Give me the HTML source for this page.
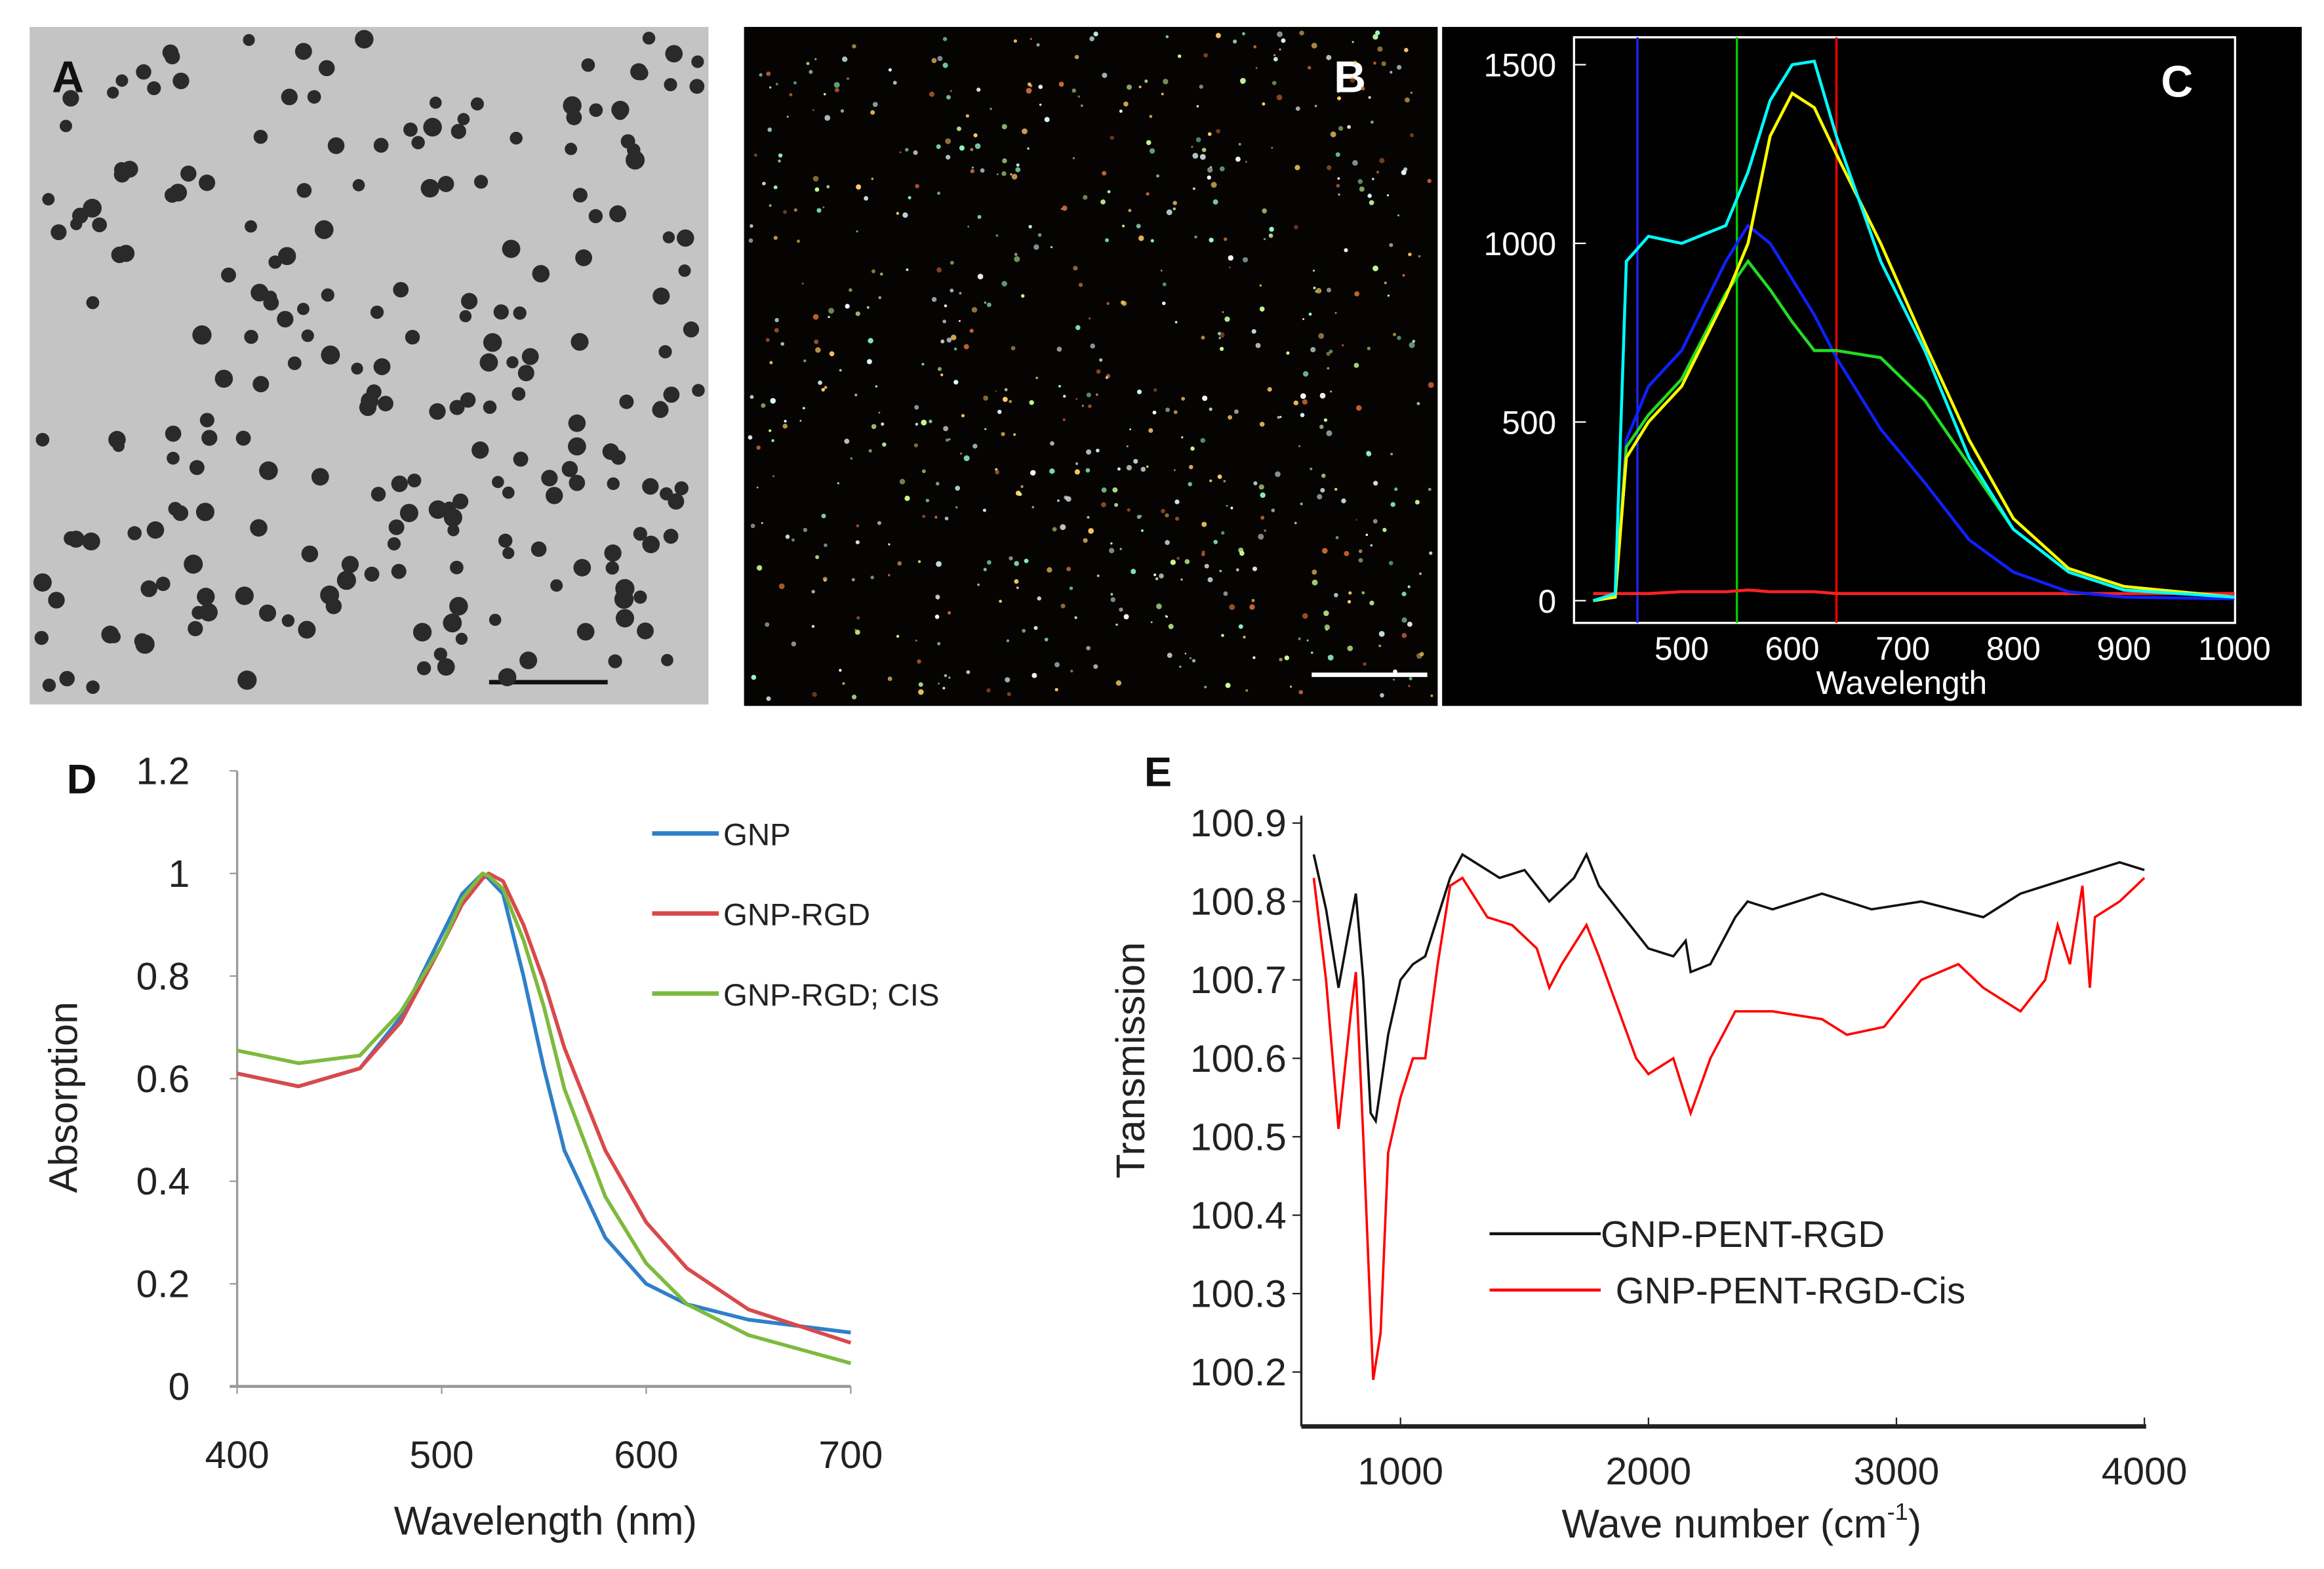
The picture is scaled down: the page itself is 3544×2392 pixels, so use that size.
<!DOCTYPE html>
<html><head><meta charset="utf-8"><style>
html,body{margin:0;padding:0;background:#fff}
svg{display:block}
text{font-family:"Liberation Sans",sans-serif}
</style></head><body>
<svg id="fig" width="3544" height="2392" viewBox="0 0 1568 1058" xmlns="http://www.w3.org/2000/svg">
<rect width="1568" height="1058" fill="#fff"/>
<g id="pa">
<rect x="20" y="18" width="458" height="457" fill="#c4c4c4"/>
<line x1="330" y1="460" x2="410" y2="460" stroke="#111" stroke-width="3"/>
<text x="35" y="62" font-size="30" font-weight="bold" fill="#111">A</text>
</g>
<g id="pb">
<rect x="502" y="18" width="468" height="458" fill="#050402"/>
<line x1="885" y1="455" x2="963" y2="455" stroke="#fff" stroke-width="3"/>
<text x="900" y="62" font-size="30" font-weight="bold" fill="#fff">B</text>
</g>
<g id="pc">
<rect x="973" y="18" width="580" height="458" fill="#000"/>
<rect x="1062" y="25" width="446" height="395" fill="none" stroke="#fff" stroke-width="1.5"/>
<text x="1458" y="65" font-size="30" font-weight="bold" fill="#fff">C</text>
<text x="1283" y="468" font-size="22" fill="#fff" text-anchor="middle">Wavelength</text>
</g>
<g id="pd">
<text x="45" y="535" font-size="28" font-weight="bold" fill="#111">D</text>
<text transform="translate(52,740) rotate(-90)" font-size="27" text-anchor="middle" fill="#222">Absorption</text>
<text x="368" y="1035" font-size="27" text-anchor="middle" fill="#222">Wavelength (nm)</text>
</g>
<g id="pe">
<text x="772" y="530" font-size="28" font-weight="bold" fill="#111">E</text>
<text transform="translate(772,715) rotate(-90)" font-size="27" text-anchor="middle" fill="#222">Transmission</text>
<text x="1175" y="1037" font-size="27" text-anchor="middle" fill="#222">Wave number (cm<tspan font-size="16" dy="-12">-1</tspan><tspan dy="12">)</tspan></text>
</g>
</svg>
<script>
const NS="http://www.w3.org/2000/svg";
// Panel C data
const cWl=[420,440,450,470,500,540,560,580,600,620,640,680,720,760,800,850,900,1000];
const cCyan=[0,20,950,1020,1000,1050,1200,1400,1500,1510,1300,950,700,400,200,80,30,10];
const cYellow=[0,10,400,500,600,850,1000,1300,1420,1380,1250,1000,720,450,230,90,40,10];
const cBlue=[0,10,450,600,700,950,1050,1000,900,800,680,480,330,170,80,25,10,5];
const cGreen=[0,10,430,520,620,860,950,870,780,700,700,680,560,380,200,80,30,10];
const cRed=[20,20,20,20,25,25,30,25,25,25,20,20,20,20,20,20,20,20];
const cTicksY=[0,500,1000,1500];
const cTicksX=[500,600,700,800,900,1000];
const cMarkers=[460,550,640];
// Panel D data
const dWl=[400,430,460,480,500,510,520,523,530,540,550,560,580,600,620,650,700];
const dGNP=[0.61,0.585,0.62,0.72,0.88,0.96,1.0,0.99,0.96,0.80,0.62,0.46,0.29,0.20,0.16,0.13,0.105];
const dRGD=[0.61,0.585,0.62,0.71,0.86,0.94,0.99,1.0,0.985,0.90,0.79,0.66,0.46,0.32,0.23,0.15,0.085];
const dCIS=[0.655,0.63,0.645,0.73,0.86,0.95,1.0,0.995,0.97,0.87,0.74,0.58,0.37,0.24,0.16,0.10,0.045];
const dTicksY=[0,0.2,0.4,0.6,0.8,1,1.2];
const dTicksX=[400,500,600,700];
const dLegend=["GNP","GNP-RGD","GNP-RGD; CIS"];
// Panel E data
const eWnB=[650,700,750,790,820,850,880,900,950,1000,1050,1100,1200,1250,1300,1400,1500,1600,1700,1750,1800,1900,2000,2100,2150,2170,2250,2350,2400,2500,2700,2900,3100,3350,3500,3700,3800,3900,4000];
const eBlack=[100.86,100.79,100.69,100.76,100.81,100.70,100.53,100.52,100.63,100.70,100.72,100.73,100.83,100.86,100.85,100.83,100.84,100.80,100.83,100.86,100.82,100.78,100.74,100.73,100.75,100.71,100.72,100.78,100.80,100.79,100.81,100.79,100.80,100.78,100.81,100.83,100.84,100.85,100.84];
const eWnR=[650,700,750,800,820,850,890,920,950,1000,1050,1100,1150,1200,1250,1350,1450,1550,1600,1650,1750,1800,1950,2000,2100,2130,2170,2250,2350,2500,2700,2800,2950,3100,3250,3350,3500,3600,3650,3700,3750,3780,3800,3900,4000];
const eRed=[100.83,100.70,100.51,100.66,100.71,100.50,100.19,100.25,100.48,100.55,100.60,100.60,100.72,100.82,100.83,100.78,100.77,100.74,100.69,100.72,100.77,100.73,100.60,100.58,100.60,100.57,100.53,100.60,100.66,100.66,100.65,100.63,100.64,100.70,100.72,100.69,100.66,100.70,100.77,100.72,100.82,100.69,100.78,100.80,100.83];
const eTicksY=[100.2,100.3,100.4,100.5,100.6,100.7,100.8,100.9];
const eTicksX=[1000,2000,3000,4000];
const eLegend=["GNP-PENT-RGD","GNP-PENT-RGD-Cis"];

function mk(tag,attrs,parent){const e=document.createElementNS(NS,tag);for(const k in attrs)e.setAttribute(k,attrs[k]);parent.appendChild(e);return e;}
function path(xs,ys,fx,fy){return xs.map((x,i)=>(i?"L":"M")+fx(x).toFixed(1)+","+fy(ys[i]).toFixed(1)).join("");}

// decorative particles (image texture)
let seed=7;function rnd(){seed=(seed*16807)%2147483647;return seed/2147483647;}
const pa=document.getElementById('pa');
for(let i=0;i<230;i++){const c=mk('circle',{cx:28+rnd()*445,cy:25+rnd()*440,r:4+rnd()*2.5,fill:'#2a2a2a'},pa);

}
const pb=document.getElementById('pb');
const cols=['#dff','#cf9','#fc6','#c63','#9fc','#fff'];
for(let i=0;i<700;i++){const c=mk('circle',{cx:506+rnd()*460,cy:22+rnd()*450,r:0.6+rnd()*1.4,fill:cols[Math.floor(rnd()*6)],opacity:0.5+rnd()*0.5},pb);

}

// Panel C
const pc=document.getElementById('pc');
const cx=v=>1060+(v-400)*0.746, cy=v=>405-v*0.241;
cTicksY.forEach(t=>{const tx=mk('text',{x:1050,y:cy(t)+8,'font-size':22,fill:'#fff','text-anchor':'end'},pc);tx.textContent=t;


mk('line',{x1:1062,x2:1070,y1:cy(t),y2:cy(t),stroke:'#fff'},pc);});
cTicksX.forEach(t=>{const tx=mk('text',{x:cx(t),y:445,'font-size':22,fill:'#fff','text-anchor':'middle'},pc);tx.textContent=t;

});
['#22f','#0c0','#f00'].forEach((col,i)=>{const l=mk('line',{x1:cx(cMarkers[i]),x2:cx(cMarkers[i]),y1:25,y2:420,stroke:col,'stroke-width':1.5},pc);

});
[[cRed,'#f22'],[cBlue,'#1020ff'],[cGreen,'#2d2'],[cYellow,'#ff0'],[cCyan,'#0ff']].forEach(([ys,col])=>{
const p=mk('path',{d:path(cWl,ys,cx,cy),fill:'none',stroke:col,'stroke-width':2},pc);

});

// Panel D
const pd=document.getElementById('pd');
const dx=v=>160+(v-400)*1.38, dy=v=>935-v*346;
mk('line',{x1:160,x2:160,y1:520,y2:935,stroke:'#999','stroke-width':1.5},pd);
mk('line',{x1:155,x2:574,y1:935,y2:935,stroke:'#999','stroke-width':2},pd);
dTicksY.forEach(t=>{mk('line',{x1:155,x2:160,y1:dy(t),y2:dy(t),stroke:'#999'},pd);
const tx=mk('text',{x:128,y:dy(t)+9,'font-size':26,fill:'#222','text-anchor':'end'},pd);tx.textContent=t;

});
dTicksX.forEach(t=>{mk('line',{x1:dx(t),x2:dx(t),y1:935,y2:940,stroke:'#999'},pd);
const tx=mk('text',{x:dx(t),y:990,'font-size':26,fill:'#222','text-anchor':'middle'},pd);tx.textContent=t;

});
const dCols=['#2f7fc8','#d9494b','#7dba3e'];
[dGNP,dRGD,dCIS].forEach((ys,i)=>{const p=mk('path',{d:path(dWl,ys,dx,dy),fill:'none',stroke:dCols[i],'stroke-width':2.5,'stroke-linejoin':'round'},pd);


const ly=562+i*54;
mk('line',{x1:440,x2:485,y1:ly,y2:ly,stroke:dCols[i],'stroke-width':3},pd);
const tx=mk('text',{x:488,y:ly+8,'font-size':21,fill:'#222'},pd);tx.textContent=dLegend[i];

});

// Panel E
const pe=document.getElementById('pe');
const ex=v=>878+(v-600)*0.1673, ey=v=>555+(100.9-v)*529;
mk('line',{x1:878,x2:878,y1:550,y2:962,stroke:'#222','stroke-width':1.5},pe);
mk('line',{x1:878,x2:1448,y1:962,y2:962,stroke:'#222','stroke-width':3},pe);
eTicksY.forEach(t=>{mk('line',{x1:872,x2:878,y1:ey(t),y2:ey(t),stroke:'#222'},pe);
const tx=mk('text',{x:868,y:ey(t)+9,'font-size':26,fill:'#222','text-anchor':'end'},pe);tx.textContent=t.toFixed(1);

});
eTicksX.forEach(t=>{mk('line',{x1:ex(t),x2:ex(t),y1:956,y2:962,stroke:'#222'},pe);
const tx=mk('text',{x:ex(t),y:1001,'font-size':26,fill:'#222','text-anchor':'middle'},pe);tx.textContent=t;

});
[[eWnB,eBlack,'#111'],[eWnR,eRed,'#f00']].forEach(([xs,ys,col],i)=>{
const p=mk('path',{d:path(xs,ys,ex,ey),fill:'none',stroke:col,'stroke-width':1.6},pe);


const ly=832+i*38;
mk('line',{x1:1005,x2:1080,y1:ly,y2:ly,stroke:col,'stroke-width':2},pe);
const tx=mk('text',{x:1080+i*10,y:ly+9,'font-size':25,fill:'#222'},pe);tx.textContent=eLegend[i];

});
</script>
</body></html>
